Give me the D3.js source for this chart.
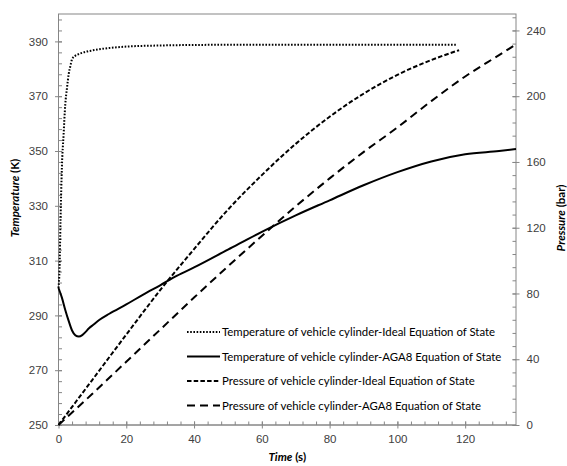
<!DOCTYPE html>
<html>
<head>
<meta charset="utf-8">
<script src="https://cdn.jsdelivr.net/npm/d3@7"></script>
<style>
  body { margin: 0; background: #fff; }
  svg { display: block; font-family: Lato, "Open Sans", sans-serif; }
</style>
</head>
<body>
<div id="chart"></div>
<script>
// data
const tempIdealT = [0, 0.3, 0.6, 1, 1.5, 2, 2.5, 3, 3.5, 4, 5, 6, 8, 10, 15, 20, 30, 40, 60, 80, 100, 117.6];
const tempIdealV = [300, 307, 325, 344, 356, 367, 373, 378, 381, 383.5, 384.8, 385.4, 386.2, 386.7, 387.6, 388.1, 388.5, 388.7, 388.8, 388.8, 388.8, 388.8];

const tempAgaT = [0, 1, 2, 3, 4, 5, 6, 7, 8, 9, 10, 12, 15, 20, 25, 30, 35, 40, 50, 60, 70, 80, 90, 100, 110, 120, 130, 135];
const tempAgaV = [300, 296.5, 292, 288, 284.5, 282.7, 282.3, 282.8, 284, 285.3, 286.3, 288.3, 290.6, 294, 297.6, 301, 304.5, 307.5, 314, 320.5, 326.5, 332, 337.5, 342.3, 346.2, 348.8, 350, 350.7];

const presIdealT = [0, 10, 20, 30, 40, 50, 60, 70, 80, 90, 100, 110, 118.2];
const presIdealV = [0, 27.5, 55, 82, 107, 131, 152, 171, 187.5, 201.5, 213, 222, 228];

const presAgaT = [0, 10, 20, 30, 40, 50, 60, 70, 80, 90, 100, 110, 120, 130, 135];
const presAgaV = [0, 19, 38.5, 58, 77.5, 96.5, 115, 133, 150, 166, 181, 197, 212, 225, 231.5];

const xTicks = [0, 20, 40, 60, 80, 100, 120];
const tempTicks = [250, 270, 290, 310, 330, 350, 370, 390];
const presTicks = [0, 40, 80, 120, 160, 200, 240];

const seriesNames = [
  "Temperature of vehicle cylinder-Ideal Equation of State",
  "Temperature of vehicle cylinder-AGA8 Equation of State",
  "Pressure of vehicle cylinder-Ideal Equation of State",
  "Pressure of vehicle cylinder-AGA8 Equation of State"
];

const width = 567, height = 466;
const marginLeft = 58.5, marginRight = 51, marginTop = 14, marginBottom = 41;
const axisColor = "#868686", labelColor = "#404040";

const x = d3.scaleLinear().domain([0, 135]).range([marginLeft, width - marginRight]);
const yT = d3.scaleLinear().domain([250, 400]).range([height - marginBottom, marginTop]);
const yP = d3.scaleLinear().domain([0, 250]).range([height - marginBottom, marginTop]);

const svg = d3.select("#chart").append("svg")
  .attr("width", width)
  .attr("height", height)
  .attr("viewBox", [0, 0, width, height]);

// plot frame
svg.append("rect")
  .attr("x", marginLeft).attr("y", marginTop)
  .attr("width", x(135) - marginLeft).attr("height", yT(250) - marginTop)
  .attr("fill", "none").attr("stroke", axisColor).attr("stroke-width", 1);

const minorOf = (lo, hi, step) => d3.range(lo, hi + 1e-9, step);

// bottom axis
const gx = svg.append("g").attr("transform", `translate(0,${yT(250)})`);
gx.call(d3.axisBottom(x).tickValues(minorOf(0, 135, 4)).tickSize(-3.5).tickFormat(""))
  .call(g => g.select(".domain").remove());
gx.append("g").call(d3.axisBottom(x).tickValues(xTicks).tickSize(3.5).tickPadding(6))
  .call(g => g.select(".domain").attr("d", `M${marginLeft},0H${x(135)}`))
  .call(g => g.selectAll(".tick line").attr("y1", -3.5));

// left axis
const gl = svg.append("g").attr("transform", `translate(${marginLeft},0)`);
gl.call(d3.axisLeft(yT).tickValues(minorOf(250, 400, 4)).tickSize(-3.5).tickFormat(""))
  .call(g => g.select(".domain").remove());
gl.append("g").call(d3.axisLeft(yT).tickValues(tempTicks).tickSize(3.5).tickPadding(7))
  .call(g => g.select(".domain").remove())
  .call(g => g.selectAll(".tick line").attr("x1", 3.5));

// right axis
const gr = svg.append("g").attr("transform", `translate(${x(135)},0)`);
gr.call(d3.axisRight(yP).tickValues(minorOf(0, 250, 8)).tickSize(-3.5).tickFormat(""))
  .call(g => g.select(".domain").remove());
gr.append("g").call(d3.axisRight(yP).tickValues(presTicks).tickSize(3.5).tickPadding(7))
  .call(g => g.select(".domain").remove())
  .call(g => g.selectAll(".tick line").attr("x1", -3.5));

svg.selectAll(".tick line").attr("stroke", axisColor);
svg.selectAll(".domain").attr("stroke", axisColor);
svg.selectAll(".tick text").attr("fill", labelColor).attr("font-size", 11.5);

// axis titles
const xTitle = svg.append("text")
  .attr("x", (marginLeft + x(135)) / 2).attr("y", 461)
  .attr("text-anchor", "middle").attr("font-size", 11.5).attr("font-weight", "bold").attr("fill", "#000");
xTitle.append("tspan").attr("font-style", "italic").text("Time");
xTitle.append("tspan").text(" (s)");

const tTitle = svg.append("text")
  .attr("transform", "translate(19,198) rotate(-90)")
  .attr("text-anchor", "middle").attr("font-size", 11.5).attr("font-weight", "bold").attr("fill", "#000");
tTitle.append("tspan").attr("font-style", "italic").text("Temperature");
tTitle.append("tspan").text(" (K)");

const pTitle = svg.append("text")
  .attr("transform", "translate(565,218) rotate(-90)")
  .attr("text-anchor", "middle").attr("font-size", 11.5).attr("font-weight", "bold").attr("fill", "#000");
pTitle.append("tspan").attr("font-style", "italic").text("Pressure");
pTitle.append("tspan").text(" (bar)");

// series
const styles = [
  { dash: "1.6,1.6", width: 2 },
  { dash: null, width: 2 },
  { dash: "4.5,2.2", width: 2 },
  { dash: "8,5", width: 2 }
];

const series = [
  { t: tempIdealT, v: tempIdealV, y: yT },
  { t: tempAgaT, v: tempAgaV, y: yT },
  { t: presIdealT, v: presIdealV, y: yP },
  { t: presAgaT, v: presAgaV, y: yP }
];

series.forEach((s, i) => {
  const pts = s.t.map((t, j) => [t, s.v[j]]);
  svg.append("path")
    .datum(pts)
    .attr("fill", "none")
    .attr("stroke", "#000")
    .attr("stroke-width", styles[i].width)
    .attr("stroke-dasharray", styles[i].dash)
    .attr("d", d3.line().curve(d3.curveMonotoneX).x(d => x(d[0])).y(d => s.y(d[1])));
});

// legend
const legend = svg.append("g").attr("transform", "translate(187,332)");
seriesNames.forEach((name, i) => {
  const row = legend.append("g").attr("transform", `translate(0,${i * 24.5})`);
  row.append("line")
    .attr("x1", 0).attr("x2", 33).attr("y1", 0).attr("y2", 0)
    .attr("stroke", "#000").attr("stroke-width", styles[i].width)
    .attr("stroke-dasharray", styles[i].dash);
  row.append("text")
    .attr("x", 35).attr("y", 0).attr("dy", "0.35em")
    .attr("font-size", 11.4).attr("fill", "#000")
    .text(name);
});
</script>
</body>
</html>
